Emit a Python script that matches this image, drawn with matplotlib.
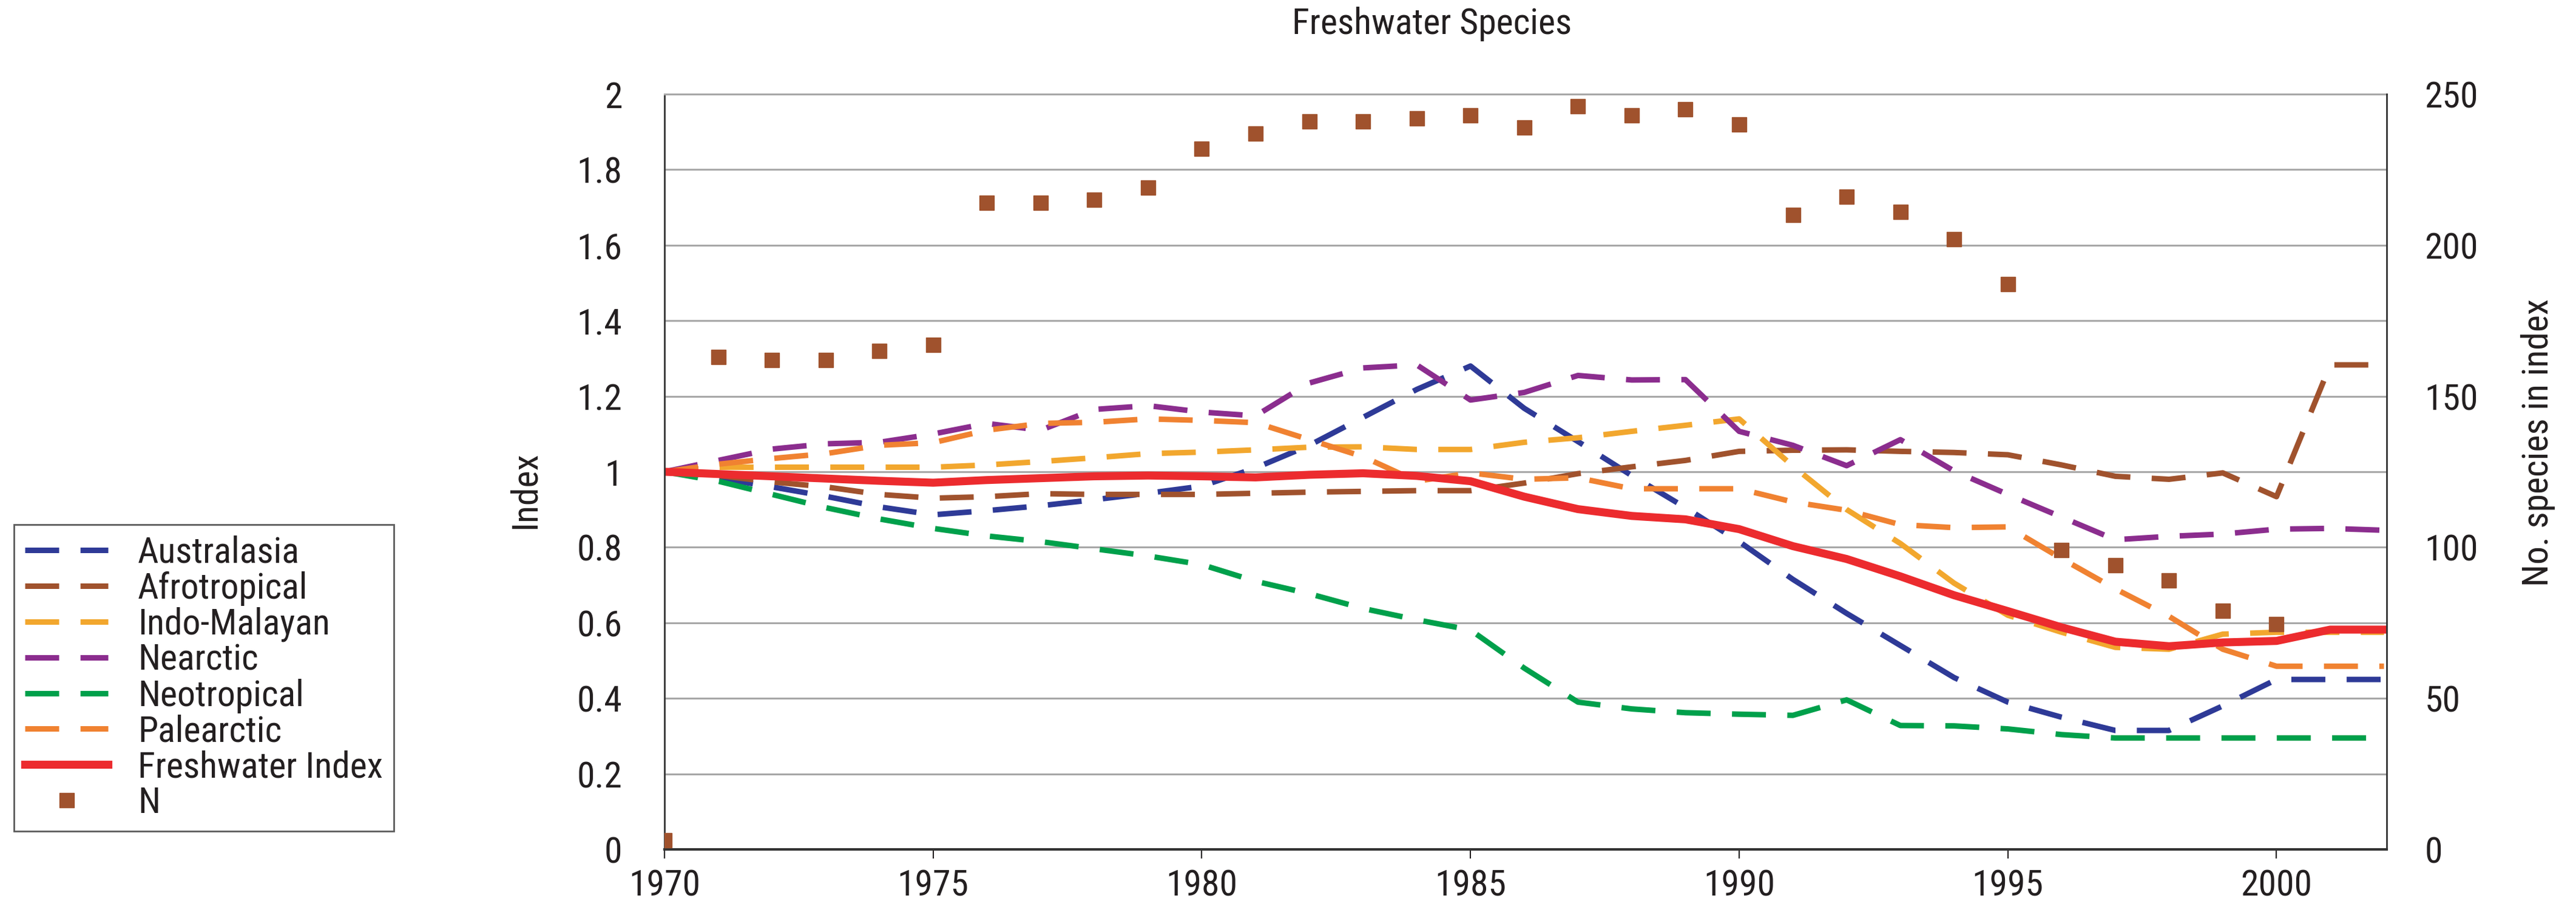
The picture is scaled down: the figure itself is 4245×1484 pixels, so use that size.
import matplotlib
matplotlib.use('Agg')
import matplotlib.pyplot as plt
from matplotlib import font_manager

# condensed face if the system has one, else plain DejaVu
fams = {f.name for f in font_manager.fontManager.ttflist}
narrow = [n for n in ['Liberation Sans Narrow', 'Roboto Condensed', 'Open Sans Condensed'] if n in fams]
plt.rcParams['font.family'] = narrow + ['DejaVu Sans']
plt.rcParams['font.stretch'] = 'condensed'

fontsize = 43

years = list(range(1970, 2003))
years_n = list(range(1970, 2001))

australasia = [1.0, 0.983, 0.96, 0.935, 0.907, 0.886, 0.897, 0.91, 0.926, 0.943, 0.962,
               1.01, 1.07, 1.144, 1.218, 1.28, 1.168, 1.08, 0.99, 0.905, 0.815,
               0.715, 0.625, 0.54, 0.455, 0.39, 0.35, 0.315, 0.315, 0.38, 0.45, 0.45, 0.45]
afrotropical = [1.0, 0.99, 0.973, 0.96, 0.94, 0.93, 0.934, 0.942, 0.94, 0.94, 0.94,
                0.943, 0.946, 0.948, 0.95, 0.95, 0.97, 0.995, 1.013, 1.03, 1.054,
                1.057, 1.058, 1.054, 1.051, 1.045, 1.018, 0.988, 0.98, 0.997, 0.934, 1.283, 1.283]
indo_malayan = [1.0, 1.012, 1.012, 1.012, 1.012, 1.012, 1.018, 1.027, 1.037, 1.048, 1.052,
                1.058, 1.065, 1.066, 1.059, 1.059, 1.078, 1.09, 1.107, 1.123, 1.14,
                1.015, 0.9, 0.81, 0.705, 0.62, 0.575, 0.535, 0.53, 0.57, 0.575, 0.575, 0.575]
nearctic = [1.0, 1.03, 1.06, 1.074, 1.078, 1.10, 1.128, 1.11, 1.165, 1.175, 1.158,
            1.148, 1.235, 1.275, 1.283, 1.19, 1.21, 1.255, 1.243, 1.244, 1.107,
            1.07, 1.016, 1.085, 1.002, 0.94, 0.88, 0.82, 0.829, 0.835, 0.848, 0.85, 0.845]
neotropical = [1.0, 0.975, 0.94, 0.905, 0.875, 0.85, 0.83, 0.815, 0.796, 0.777, 0.754,
               0.71, 0.677, 0.638, 0.608, 0.581, 0.48, 0.39, 0.372, 0.362, 0.358,
               0.355, 0.396, 0.328, 0.327, 0.319, 0.304, 0.295, 0.295, 0.295, 0.295, 0.295, 0.295]
palearctic = [1.0, 1.02, 1.035, 1.048, 1.07, 1.077, 1.11, 1.128, 1.131, 1.14, 1.136,
              1.13, 1.085, 1.04, 0.975, 0.997, 0.98, 0.984, 0.955, 0.955, 0.955,
              0.92, 0.898, 0.86, 0.852, 0.854, 0.77, 0.69, 0.617, 0.53, 0.485, 0.485, 0.485]
freshwater = [1.0, 0.994, 0.988, 0.982, 0.976, 0.971, 0.978, 0.983, 0.988, 0.99, 0.988,
              0.985, 0.992, 0.996, 0.989, 0.975, 0.934, 0.901, 0.883, 0.874, 0.848,
              0.803, 0.769, 0.723, 0.673, 0.631, 0.588, 0.55, 0.538, 0.548, 0.552, 0.582, 0.582]
n_species = [3, 163, 162, 162, 165, 167, 214, 214, 215, 219, 232,
             237, 241, 241, 242, 243, 239, 246, 243, 245, 240,
             210, 216, 211, 202, 187, 99, 94, 89, 79, 74.5]

regions = [('Australasia', australasia, '#2e3a97'),
           ('Afrotropical', afrotropical, '#a0522d'),
           ('Indo-Malayan', indo_malayan, '#f2a72e'),
           ('Nearctic', nearctic, '#8b2d8e'),
           ('Neotropical', neotropical, '#00a04b'),
           ('Palearctic', palearctic, '#f08231')]

W, H = 4245, 1484
fig = plt.figure(figsize=(W/100, H/100), dpi=100)
ax = fig.add_axes([1095/W, 1 - 1399/H, (3933 - 1095)/W, 1244/H])

handles = []
for name, vals, col in regions:
    l, = ax.plot(years, vals, color=col, lw=6.5, dashes=(6.2, 3.9), label=name,
                 solid_capstyle='butt', dash_capstyle='butt')
    handles.append(l)
l, = ax.plot(years, freshwater, color='#ec2b2e', lw=9.5, label='Freshwater Index',
             solid_joinstyle='round')
handles.append(l)

ax.set_xlim(1970, 2002.05)
ax.set_ylim(0, 2)
ax.set_yticks([i*0.2 for i in range(11)])
ax.set_yticklabels(['0', '0.2', '0.4', '0.6', '0.8', '1', '1.2', '1.4', '1.6', '1.8', '2'])
ax.set_xticks(range(1970, 2001, 5))
ax.tick_params(axis='y', length=0, pad=50, labelsize=fontsize, colors='#231f20')
ax.tick_params(axis='x', length=11, width=1.5, pad=12, labelsize=fontsize,
               direction='out', colors='#231f20')
ax.yaxis.grid(True, color='#a8a8a8', lw=2.2)
ax.set_axisbelow(True)
ax.spines['top'].set_color('#a8a8a8')
ax.spines['top'].set_linewidth(2.2)
ax.spines['left'].set_color('#333333')
ax.spines['left'].set_linewidth(2)
ax.spines['bottom'].set_color('#333333')
ax.spines['bottom'].set_linewidth(3)
ax.spines['right'].set_visible(False)
ax.set_ylabel('Index', fontsize=fontsize, color='#231f20')
ax.yaxis.set_label_coords(-0.0708, 0.476)

ax2 = ax.twinx()
sq, = ax2.plot(years_n, n_species, ls='none', marker='s', ms=17, color='#a0522d',
               mec='#a0522d', label='N')
handles.append(sq)
ax2.set_ylim(0, 250)
ax2.set_yticks([0, 50, 100, 150, 200, 250])
ax2.tick_params(axis='y', length=0, pad=45, labelsize=fontsize, colors='#231f20')
ax2.spines['right'].set_color('#333333')
ax2.spines['right'].set_linewidth(2)
for s in ['top', 'left', 'bottom']:
    ax2.spines[s].set_visible(False)
ax2.set_ylabel('No. species in index', fontsize=fontsize, color='#231f20')
ax2.yaxis.set_label_coords(1.078, 0.539)

fig.text(2360/W, 1 - 40/H, 'Freshwater Species', fontsize=fontsize, ha='center',
         va='center', color='#231f20')

leg = fig.legend(handles=handles, loc='upper left', bbox_to_anchor=(23/W, 1 - 864/H),
                 fontsize=fontsize, frameon=True, fancybox=False, borderaxespad=0,
                 handlelength=2.3, handletextpad=0.82, labelspacing=0.03, borderpad=0.3)
leg.get_frame().set_edgecolor('#333333')
leg.get_frame().set_linewidth(2)
for t in leg.get_texts():
    t.set_color('#231f20')

fig.savefig('out.png', dpi=100)
